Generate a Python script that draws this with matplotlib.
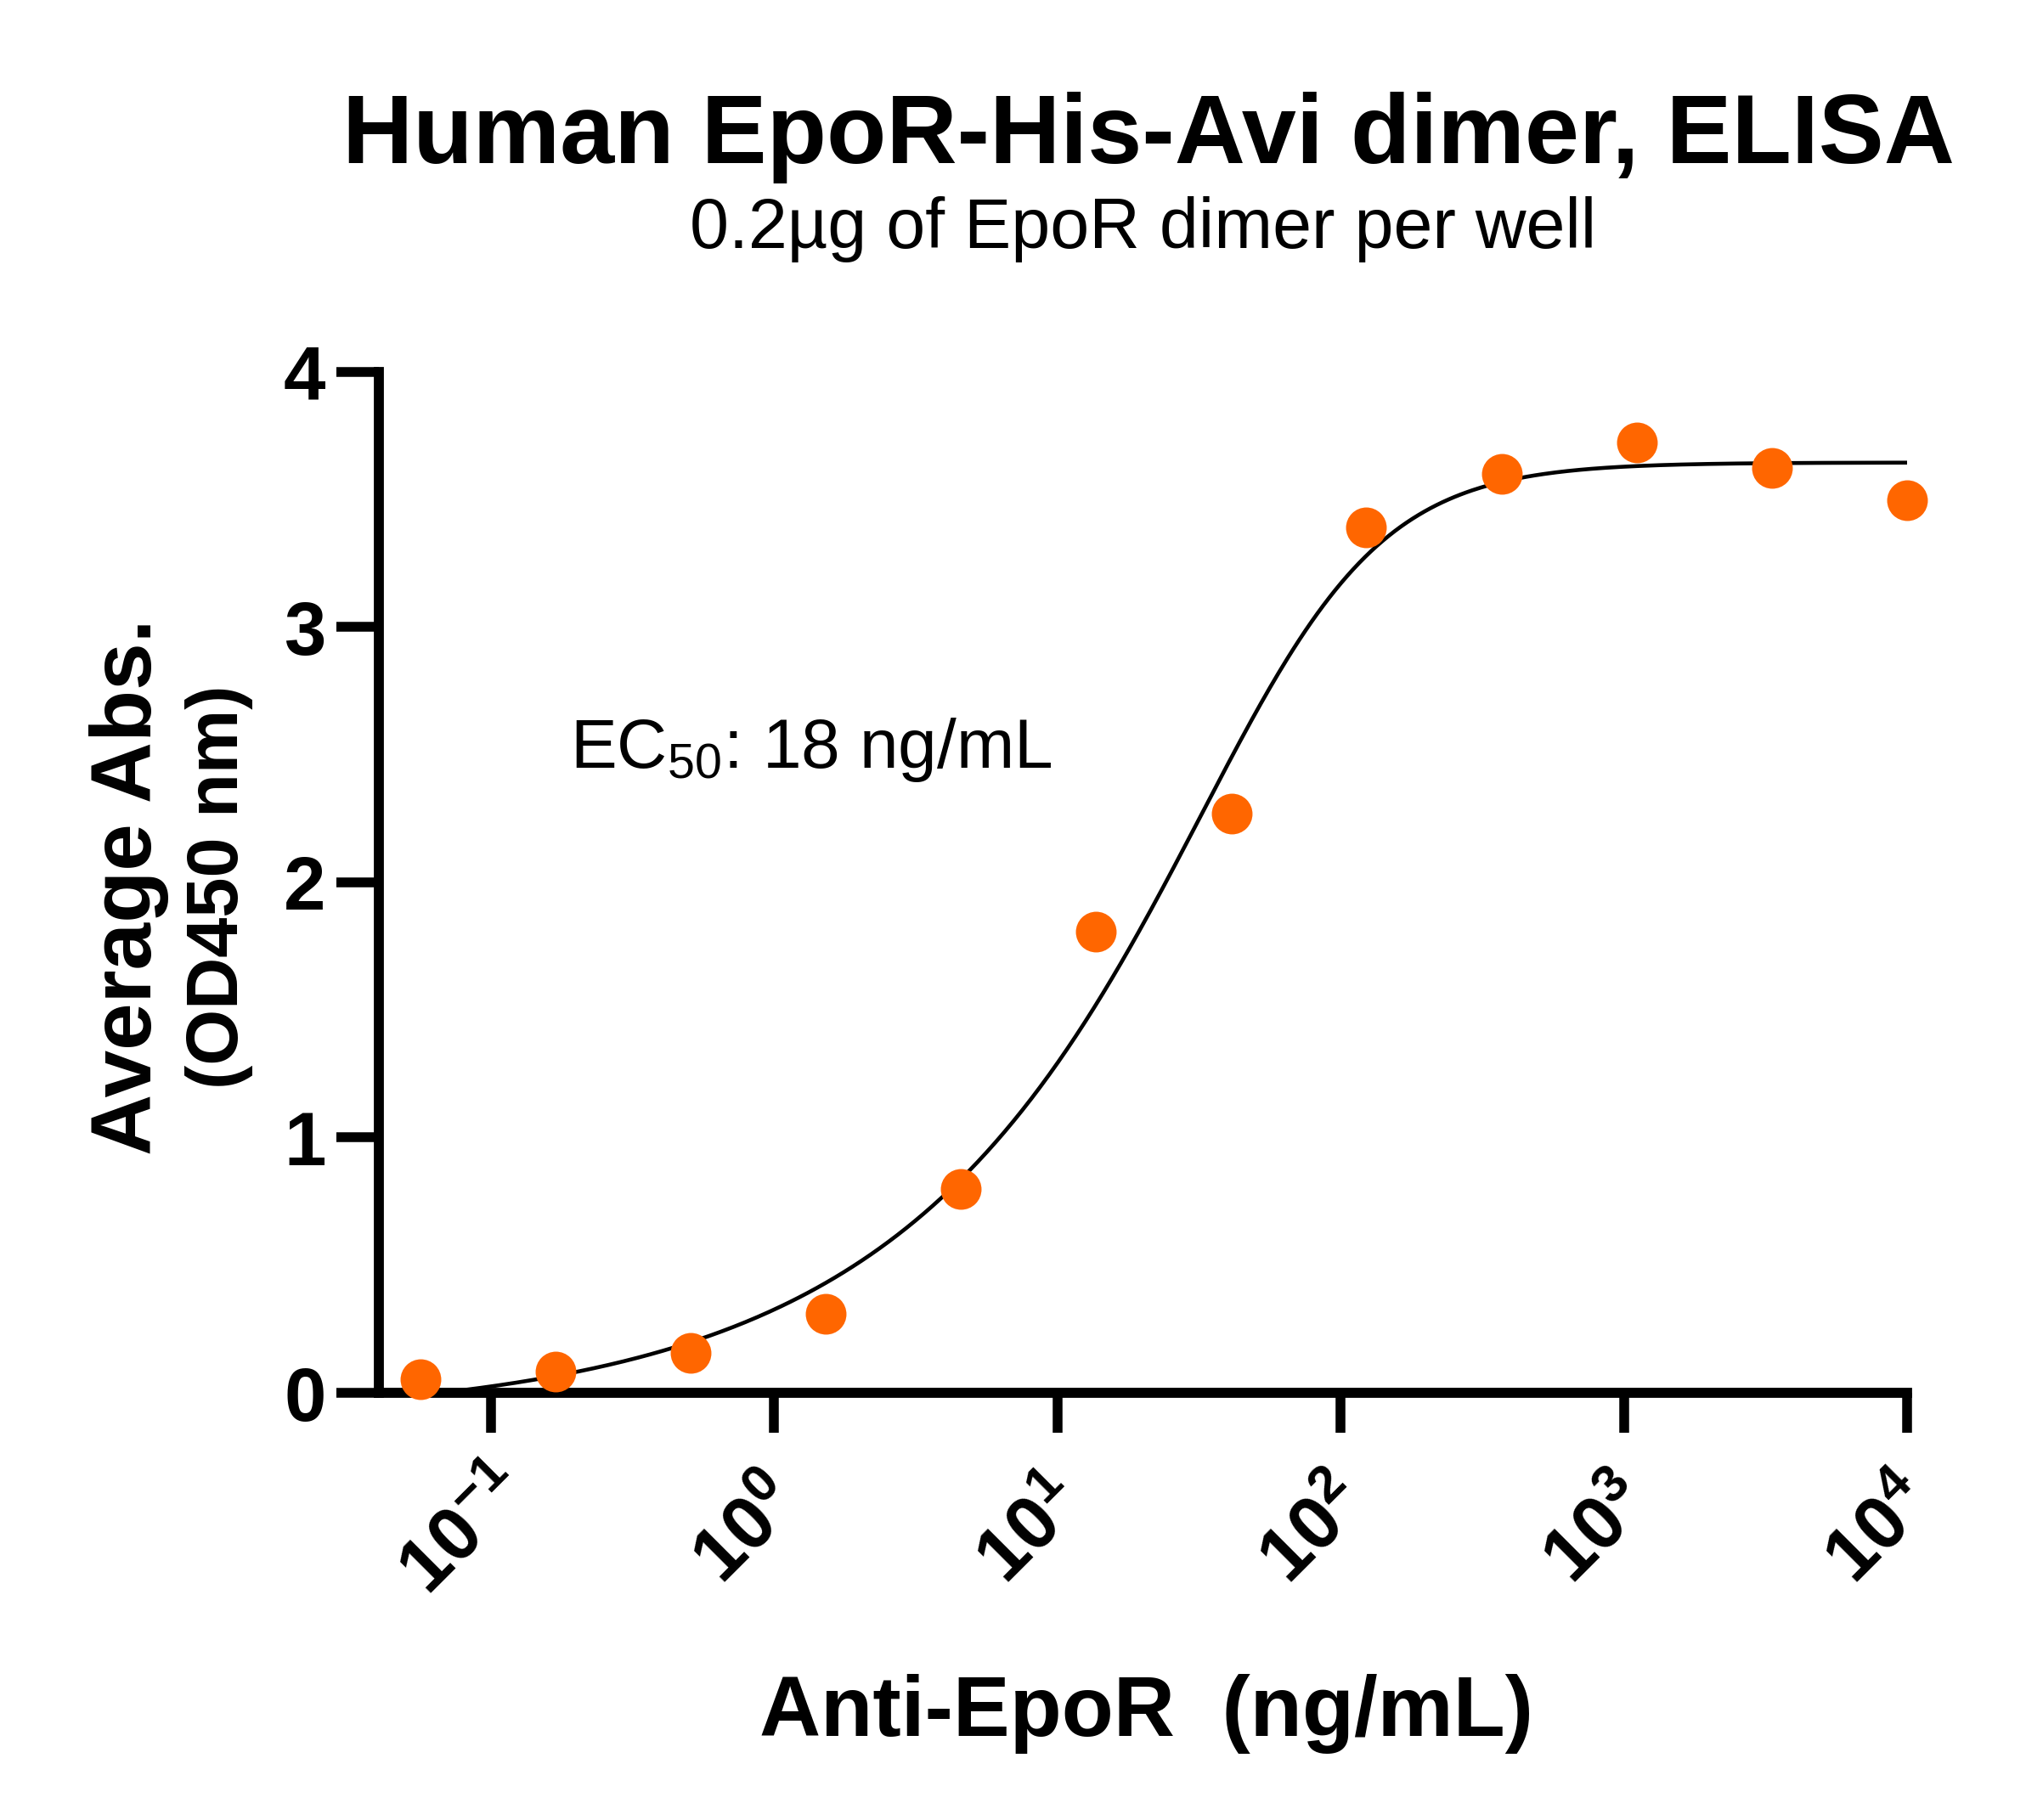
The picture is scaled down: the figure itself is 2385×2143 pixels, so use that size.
import numpy as np
import matplotlib
matplotlib.use("Agg")
import matplotlib.pyplot as plt
from matplotlib.transforms import ScaledTranslation

plt.rcParams['font.family'] = ['Liberation Sans', 'DejaVu Sans']
plt.rcParams['mathtext.fontset'] = 'custom'
plt.rcParams['mathtext.rm'] = 'Liberation Sans'
plt.rcParams['mathtext.it'] = 'Liberation Sans:italic'
plt.rcParams['mathtext.bf'] = 'Liberation Sans:bold'

# Data (3-fold dilution series, mean OD450)
conc = [0.0565, 0.169, 0.508, 1.52, 4.57, 13.7, 41.2, 123, 370, 1111, 3333, 10000]
od450 = [0.052, 0.083, 0.156, 0.308, 0.797, 1.807, 2.270, 3.390, 3.601, 3.724, 3.624, 3.495]

# asymmetric sigmoid (5PL) fit parameters: bottom, top, log x_b, hill slope, asymmetry
fit_bottom = -0.107
fit_top = 3.644
fit_logxb = 1.817
fit_hill = 1.582
fit_asym = 0.326

xtick_exp = [-1, 0, 1, 2, 3, 4]
ytick_vals = [0, 1, 2, 3, 4]


def five_pl(lx):
    return fit_bottom + (fit_top - fit_bottom) / (1 + 10 ** ((fit_logxb - lx) * fit_hill)) ** fit_asym


fig = plt.figure(figsize=(23.85, 21.43), dpi=100)
ax = fig.add_axes([0.1870, 0.2347, 0.7543, 0.5611])

lx = np.linspace(np.log10(min(conc)), np.log10(max(conc)), 500)
ax.plot(10 ** lx, five_pl(lx), color='black', lw=3.3, zorder=3)
ax.plot(conc, od450, 'o', color='#FF6600', ms=34.5, mec='none', clip_on=False, zorder=5)

ax.set_xscale('log')
ax.set_xlim(10 ** -1.396, 1e4)
ax.set_ylim(0, 4)
ax.minorticks_off()

for side in ['top', 'right']:
    ax.spines[side].set_visible(False)
for side in ['left', 'bottom']:
    ax.spines[side].set_linewidth(8.5)
    ax.spines[side].set_capstyle('projecting')

ax.set_yticks(ytick_vals)
ax.set_yticklabels([str(v) for v in ytick_vals], fontsize=64, fontweight='bold')
ax.tick_params(axis='y', length=36, width=8.3, pad=9)

ax.set_xticks([10.0 ** e for e in xtick_exp])
ax.set_xticklabels([r'$\mathbf{10^{%d}}$' % e for e in xtick_exp], fontsize=64)
ax.tick_params(axis='x', length=34, width=8.3, pad=84)
shift = ScaledTranslation(-0.30, 0, fig.dpi_scale_trans)
for lab in ax.get_xticklabels():
    lab.set_rotation(45)
    lab.set_ha('center')
    lab.set_va('center')
    lab.set_rotation_mode('anchor')
    lab.set_transform(lab.get_transform() + shift)

fig.text(0.5669, 0.9104, 'Human EpoR-His-Avi dimer, ELISA', fontsize=83,
         fontweight='bold', ha='center', va='baseline')
fig.text(0.5640, 0.8637, '0.2µg of EpoR dimer per well', fontsize=59.5,
         ha='center', va='baseline')
fig.text(0.5660, 0.0462, 'Anti-EpoR  (ng/mL)', fontsize=72, fontweight='bold',
         ha='center', va='baseline')
fig.text(0.0746, 0.5128, 'Average Abs.', fontsize=72, fontweight='bold',
         rotation=90, rotation_mode='anchor', ha='center', va='baseline')
fig.text(0.1174, 0.5128, '(OD450 nm)', fontsize=61, fontweight='bold',
         rotation=90, rotation_mode='anchor', ha='center', va='baseline')
fig.text(0.2815, 0.5782, 'EC$_{50}$: 18 ng/mL', fontsize=59, ha='left', va='baseline')

fig.savefig('out.png', dpi=100, facecolor='white')
